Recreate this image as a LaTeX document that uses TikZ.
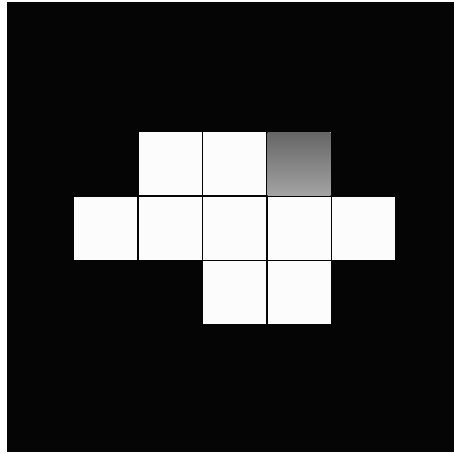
\documentclass[tikz,border=0pt]{standalone}
\usepackage{tikz}
\usetikzlibrary{positioning}
\definecolor{Ink}{HTML}{050505}
\definecolor{Paper}{HTML}{FCFCFC}

\begin{document}
\begin{tikzpicture}[
  x=1pt,y=1pt,
  cell/.style={rectangle,fill=Paper,inner sep=0pt,outer sep=0pt,
    minimum size=63pt},
  shadedcell/.style={cell,top color=black!60,bottom color=black!36}
]
\useasboundingbox (0,0) rectangle (454,454);
\fill[Ink] (7,2) rectangle (454,452);
% middle row
\node[cell] (m1) at (105.5,225.5) {};
\node[cell,right=1.5pt of m1] (m2) {};
\node[cell,right=1.5pt of m2] (m3) {};
\node[cell,right=1.5pt of m3] (m4) {};
\node[cell,right=1.5pt of m4] (m5) {};
% top row
\node[cell,above=1.5pt of m2] (t2) {};
\node[cell,above=1.5pt of m3] (t3) {};
\node[shadedcell,above=1.5pt of m4] (t4) {};
% bottom row
\node[cell,below=1.5pt of m3] (b3) {};
\node[cell,below=1.5pt of m4] (b4) {};
\end{tikzpicture}
\end{document}
